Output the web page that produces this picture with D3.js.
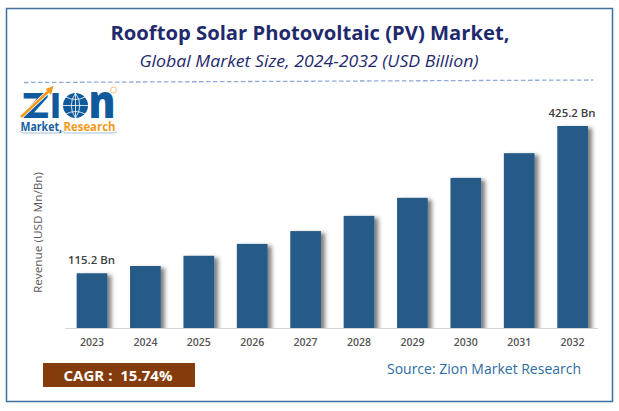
<!DOCTYPE html>
<html><head><meta charset="utf-8">
<script src="https://cdn.jsdelivr.net/npm/d3@7/dist/d3.min.js"></script>
<style>html,body{margin:0;padding:0;background:#fff}svg{display:block}text{font-family:"Open Sans","Noto Sans",sans-serif}</style>
</head><body><svg id="c" width="619" height="411"></svg>
<script>
const years=["2023","2024","2025","2026","2027","2028","2029","2030","2031","2032"];
const revenue=[115.2,130.5,152,177,204,236,274,316,368,425.2];
const valueLabels={"2023":"115.2 Bn","2032":"425.2 Bn"};
const svg=d3.select("#c");
const defs=svg.append("defs");
const f=defs.append("filter").attr("id","sh").attr("x","-20%").attr("y","-10%").attr("width","160%").attr("height","115%");
f.append("feDropShadow").attr("dx",4).attr("dy",2).attr("stdDeviation",2.2).attr("flood-color","#000").attr("flood-opacity",.5);
defs.append("clipPath").attr("id","plot").append("rect").attr("x",60).attr("y",100).attr("width",545).attr("height",228);
svg.append("rect").attr("x",6.5).attr("y",8.5).attr("width",606).attr("height",393).attr("fill","#fff").attr("stroke","#3f70a0").attr("stroke-width",1.5);
const x=d3.scaleBand().domain(years).range([65.3,599.3]).paddingInner(.425).paddingOuter(.2125);
const y=d3.scaleLinear().domain([0,425.2]).range([328,126]);
const T=(tx,ty,s,size,fill,o={})=>svg.append("text").attr("x",tx).attr("y",ty).attr("text-anchor",o.a||"middle").attr("font-size",size).attr("fill",fill).attr("font-weight",o.w||400).attr("font-style",o.i?"italic":"normal").attr("textLength",o.l||null).attr("lengthAdjust","spacingAndGlyphs").text(s);
T(310,40,"Rooftop Solar Photovoltaic (PV) Market,",20,"#1f2a6e",{w:700,l:399});
T(309,66.5,"Global Market Size, 2024-2032 (USD Billion)",15.5,"#1f2a6e",{i:1,l:339});
svg.append("line").attr("x1",24).attr("y1",82.5).attr("x2",593).attr("y2",80).attr("stroke","#8fa9d8").attr("stroke-width",1.3).attr("stroke-dasharray","4.5 2.5");
svg.append("g").attr("clip-path","url(#plot)").selectAll("rect").data(years).join("rect").attr("x",d=>x(d)).attr("width",x.bandwidth()).attr("y",(d,i)=>y(revenue[i])).attr("height",(d,i)=>338-y(revenue[i])).attr("fill","#265a87").attr("filter","url(#sh)");
const ax=svg.append("g").attr("transform","translate(0,328)").call(d3.axisBottom(x).tickSize(0).tickPadding(11));
ax.select(".domain").attr("d","M65.5,0.5H598").attr("stroke","#d4d4d4").attr("stroke-width",1.2);
ax.selectAll("text").attr("font-size",10.5).attr("font-weight",600).attr("fill","#555").style("font-family",'"Open Sans",sans-serif');
svg.append("g").selectAll("text").data(years.filter(d=>valueLabels[d])).join("text").attr("x",d=>x(d)+x.bandwidth()/2-0.5).attr("y",d=>y(revenue[years.indexOf(d)])-9).attr("text-anchor","middle").attr("font-size",11).attr("font-weight",600).attr("fill","#404040").attr("textLength",47).attr("lengthAdjust","spacingAndGlyphs").text(d=>valueLabels[d]);
svg.append("text").attr("transform","translate(42,232.5) rotate(-90)").attr("text-anchor","middle").attr("font-size",11.5).attr("fill","#595959").attr("textLength",121).attr("lengthAdjust","spacingAndGlyphs").text("Revenue (USD Mn/Bn)");
svg.append("rect").attr("x",43).attr("y",363).attr("width",152).attr("height",24).attr("fill","#843c0c");
T(118,381,"CAGR :\u00a0 15.74%",14.5,"#fff",{w:700,l:109});
T(484,374,"Source: Zion Market Research",14,"#2e6ca4",{l:194});
// logo
const blue="#0f5a9c",orange="#f39a1e";
T(22,118,"Z",35,blue,{w:800,a:"start",l:27});
T(50,118,"I",35,blue,{w:800,a:"start",l:11});
T(88.5,118,"n",46,blue,{w:800,a:"start",l:27});
const g=svg.append("g");
g.append("circle").attr("cx",75.5).attr("cy",105.5).attr("r",12.5).attr("fill",blue);
g.append("path").attr("d","M63,105.5H88M75.5,93V118M66,97Q75.5,102 85,97M66,114Q75.5,109 85,114M75.5,93Q67,105.5 75.5,118M75.5,93Q84,105.5 75.5,118").attr("stroke","#fff").attr("fill","none").attr("stroke-width",.8);
g.append("path").attr("d","M21,117L50,90").attr("stroke","#fff").attr("stroke-width",4);
g.append("path").attr("d","M21,117L50,90").attr("stroke",orange).attr("stroke-width",2.4);
g.append("path").attr("d","M53.5,86L45.5,89L51,95Z").attr("fill",orange);
g.append("circle").attr("cx",113.5).attr("cy",90).attr("r",3).attr("fill","none").attr("stroke","#f3a04a").attr("stroke-width",.7);
T(20.5,131,"Market,",11.5,"#16609f",{w:700,a:"start",l:41.5});
T(63.5,131,"Research",11.5,orange,{w:700,a:"start",l:52});
g.append("path").attr("d","M20,131.5Q22,133.5 25,133H58Q61,133.5 63,131.5Q65,133.5 68,133H112Q115,133.5 117,131.5").attr("fill","none").attr("stroke","#7aa3cc").attr("stroke-width",.7);
</script></body></html>
